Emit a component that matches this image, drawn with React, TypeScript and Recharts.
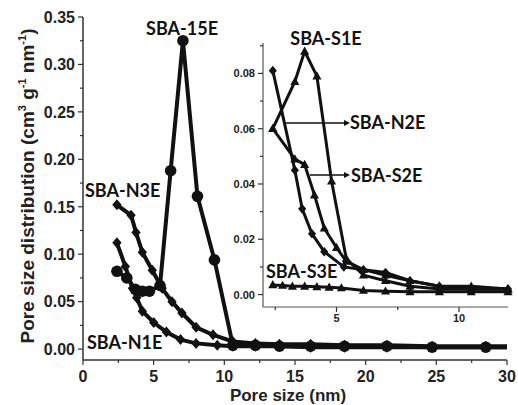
import React from "react";
import { Line, LineChart, XAxis, YAxis } from "recharts";

type Pt = { size: number; value: number };

const toPts = (rows: number[][]): Pt[] => rows.map(([size, value]) => ({ size, value }));

// main panel (0-30 nm)
const sba15E = toPts([
  [2.4, 0.082], [3.1, 0.075], [3.7, 0.063], [4.2, 0.061], [4.7, 0.061], [5.45, 0.067],
  [6.2, 0.188], [7.07, 0.325], [8.1, 0.161], [9.3, 0.094], [10.6, 0.004], [12.2, 0.004],
  [13.9, 0.003], [16.1, 0.003], [18.5, 0.003], [21.5, 0.003], [24.7, 0.002], [28.5, 0.002], [30, 0.002],
]);
const sbaN3E = toPts([
  [2.4, 0.152], [3.4, 0.141], [3.75, 0.123], [4.2, 0.102], [4.9, 0.083], [5.6, 0.064],
  [6.3, 0.05], [7.0, 0.038], [8.0, 0.023], [9.2, 0.015], [10.6, 0.008], [12.2, 0.006],
  [13.9, 0.005], [16.1, 0.005], [18.5, 0.004], [21.5, 0.004], [24.7, 0.003], [28.5, 0.003], [30, 0.003],
]);
const sbaN1E = toPts([
  [2.4, 0.112], [3.0, 0.087], [3.5, 0.064], [3.8, 0.054], [4.2, 0.04], [5.0, 0.028],
  [5.9, 0.018], [6.9, 0.01], [8.0, 0.006], [9.5, 0.004], [10.6, 0.003], [12.2, 0.003],
  [13.9, 0.003], [16.1, 0.002], [18.5, 0.002], [21.5, 0.002], [24.7, 0.002], [28.5, 0.002], [30, 0.002],
]);

// inset (2-12 nm)
const sbaS1E = toPts([
  [2.4, 0.06], [3.3, 0.077], [3.7, 0.088], [4.2, 0.079], [4.8, 0.041], [5.4, 0.013],
  [6.1, 0.007], [7.0, 0.005], [8.0, 0.003], [9.2, 0.002], [10.5, 0.002], [12, 0.002],
]);
const sbaN2E = toPts([
  [2.4, 0.06], [3.3, 0.049], [3.7, 0.047], [4.1, 0.036], [4.5, 0.024], [5.0, 0.017],
  [5.4, 0.012], [6.1, 0.009], [7.0, 0.007], [8.0, 0.005], [9.2, 0.003], [10.5, 0.003], [12, 0.002],
]);
const sbaS2E = toPts([
  [2.4, 0.081], [3.3, 0.045], [3.6, 0.031], [4.0, 0.022], [4.5, 0.0155], [5.3, 0.01],
  [6.1, 0.009], [7.0, 0.008], [8.0, 0.005], [9.2, 0.003], [10.5, 0.002], [12, 0.002],
]);
const sbaS3E = toPts([
  [2.4, 0.0035], [2.8, 0.0033], [3.2, 0.003], [3.7, 0.003], [4.2, 0.0028], [4.7, 0.0026],
  [5.2, 0.0024], [6.1, 0.0015], [7.0, 0.0012], [8.0, 0.001], [9.2, 0.001], [10.5, 0.001], [12, 0.001],
]);

const mainXTicks = [0, 2.5, 5, 7.5, 10, 12.5, 15, 17.5, 20, 22.5, 25, 27.5, 30];
const mainYTicks = [0, 0.025, 0.05, 0.075, 0.1, 0.125, 0.15, 0.175, 0.2, 0.225, 0.25, 0.275, 0.3, 0.325, 0.35];
const insetXTicks = [2.5, 5, 7.5, 10];
const insetYTicks = [0, 0.01, 0.02, 0.03, 0.04, 0.05, 0.06, 0.07, 0.08, 0.09];

const INK = "#111";
const AXIS = "#333";
const tickFont = "'Liberation Sans', Arial, sans-serif";
const annFont = "Lato, 'Open Sans', sans-serif";

const isMult = (v: number, step: number) => Math.abs(v / step - Math.round(v / step)) < 1e-6;

const makeYTick = (step: number, fontSize: number, decimals: number) => (props: any) => {
  const { x, y, payload } = props;
  const major = isMult(payload.value, step);
  return (
    <g>
      <line x1={x} x2={x - (major ? 5 : 3)} y1={y} y2={y} stroke={AXIS} strokeWidth={1.2} />
      {major && (
        <text x={x - 8} y={y} dy="0.36em" textAnchor="end" fontFamily={tickFont} fontWeight="bold" fontSize={fontSize} fill="#222">
          {payload.value.toFixed(decimals)}
        </text>
      )}
    </g>
  );
};

const makeXTick = (step: number, fontSize: number, gap: number) => (props: any) => {
  const { x, y, payload } = props;
  const major = isMult(payload.value, step);
  return (
    <g>
      <line x1={x} x2={x} y1={y} y2={y + (major ? 5 : 3)} stroke={AXIS} strokeWidth={1.2} />
      {major && (
        <text x={x} y={y + gap} dy="0.36em" textAnchor="middle" fontFamily={tickFont} fontWeight="bold" fontSize={fontSize} fill="#222">
          {payload.value}
        </text>
      )}
    </g>
  );
};

const circleDot = (r: number) => (p: any) =>
  p.payload && p.payload.size >= 30 ? <g key={`c-${p.index}`} /> : <circle key={`c-${p.index}`} cx={p.cx} cy={p.cy} r={r} fill={INK} />;

const diamondDot = (s: number) => (p: any) =>
  p.payload && p.payload.size >= 30 ? (
    <g key={`d-${p.index}`} />
  ) : (
    <polygon
      key={`d-${p.index}`}
      points={`${p.cx},${p.cy - s} ${p.cx + s * 0.85},${p.cy} ${p.cx},${p.cy + s} ${p.cx - s * 0.85},${p.cy}`}
      fill={INK}
    />
  );

const triangleDot = (s: number) => (p: any) => (
  <polygon
    key={`t-${p.index}`}
    points={`${p.cx},${p.cy - s} ${p.cx + s * 0.95},${p.cy + s * 0.7} ${p.cx - s * 0.95},${p.cy + s * 0.7}`}
    fill={INK}
  />
);

const Ann = ({ x, y, children, anchor = "start" }: { x: number; y: number; children: React.ReactNode; anchor?: string }) => (
  <text x={x} y={y} textAnchor={anchor as any} fontFamily={annFont} fontWeight="bold" fontSize={18} fill={INK}>
    {children}
  </text>
);

const Arrow = ({ x1, x2, y }: { x1: number; x2: number; y: number }) => (
  <g>
    <line x1={x1} x2={x2 - 5} y1={y} y2={y} stroke={INK} strokeWidth={1.4} />
    <polygon points={`${x2},${y} ${x2 - 6},${y - 3} ${x2 - 6},${y + 3}`} fill={INK} />
  </g>
);

export default function App() {
  return (
    <div style={{ position: "absolute", left: 0, top: 0, width: 518, height: 405, background: "#fff", overflow: "hidden" }}>
      <div style={{ position: "absolute", left: 0, top: 0 }}>
        <LineChart width={518} height={405} margin={{ top: 17, right: 11, left: 0, bottom: 0 }}>
          <XAxis
            type="number"
            dataKey="size"
            domain={[0, 30]}
            ticks={mainXTicks}
            interval={0}
            height={45}
            tickSize={0}
            tickMargin={0}
            tickLine={false}
            tick={makeXTick(5, 16, 16)}
            axisLine={{ stroke: AXIS, strokeWidth: 1.5 }}
          />
          <YAxis
            type="number"
            domain={[-0.0115, 0.35]}
            ticks={mainYTicks}
            interval={0}
            width={83}
            tickSize={0}
            tickMargin={0}
            tickLine={false}
            tick={makeYTick(0.05, 16, 2)}
            axisLine={{ stroke: AXIS, strokeWidth: 1.5 }}
          />
          <Line data={sbaN1E} dataKey="value" stroke={INK} strokeWidth={4} dot={diamondDot(5.5)} activeDot={false} isAnimationActive={false} />
          <Line data={sbaN3E} dataKey="value" stroke={INK} strokeWidth={4} dot={diamondDot(5.5)} activeDot={false} isAnimationActive={false} />
          <Line data={sba15E} dataKey="value" stroke={INK} strokeWidth={4} dot={circleDot(5.8)} activeDot={false} isAnimationActive={false} />
        </LineChart>
      </div>
      <div style={{ position: "absolute", left: 220, top: 30 }}>
        <LineChart width={295} height={300} margin={{ top: 13, right: 7, left: 0, bottom: 0 }}>
          <XAxis
            type="number"
            dataKey="size"
            domain={[2, 12]}
            ticks={insetXTicks}
            interval={0}
            height={23}
            tickSize={0}
            tickMargin={0}
            tickLine={false}
            tick={makeXTick(5, 11, 11)}
            axisLine={{ stroke: "#555", strokeWidth: 1.2 }}
          />
          <YAxis
            type="number"
            domain={[-0.0045, 0.091]}
            ticks={insetYTicks}
            interval={0}
            width={43}
            tickSize={0}
            tickMargin={0}
            tickLine={false}
            tick={makeYTick(0.02, 11, 2)}
            axisLine={{ stroke: "#555", strokeWidth: 1.2 }}
          />
          <Line data={sbaS3E} dataKey="value" stroke={INK} strokeWidth={3} dot={triangleDot(4.8)} activeDot={false} isAnimationActive={false} />
          <Line data={sbaS2E} dataKey="value" stroke={INK} strokeWidth={3} dot={diamondDot(4.8)} activeDot={false} isAnimationActive={false} />
          <Line data={sbaN2E} dataKey="value" stroke={INK} strokeWidth={3} dot={triangleDot(4.8)} activeDot={false} isAnimationActive={false} />
          <Line data={sbaS1E} dataKey="value" stroke={INK} strokeWidth={3} dot={triangleDot(4.8)} activeDot={false} isAnimationActive={false} />
        </LineChart>
      </div>
      <svg width={518} height={405} style={{ position: "absolute", left: 0, top: 0, pointerEvents: "none" }}>
        <text
          transform="translate(34,186) rotate(-90)"
          textAnchor="middle"
          fontFamily={tickFont}
          fontWeight="bold"
          fontSize={19}
          fill="#222"
        >
          Pore size distribution (cm<tspan fontSize={11} dy={-8}>3</tspan>
          <tspan dy={8}> g</tspan>
          <tspan fontSize={11} dy={-8}>-1</tspan>
          <tspan dy={8}> nm</tspan>
          <tspan fontSize={11} dy={-8}>-1</tspan>
          <tspan dy={8}>)</tspan>
        </text>
        <text x={288} y={401} textAnchor="middle" fontFamily={tickFont} fontWeight="bold" fontSize={17} fill="#222">
          Pore size (nm)
        </text>
        <Ann x={182} y={35} anchor="middle">SBA-15E</Ann>
        <Ann x={85} y={197}>SBA-N3E</Ann>
        <Ann x={87} y={349}>SBA-N1E</Ann>
        <Ann x={326} y={45} anchor="middle">SBA-S1E</Ann>
        <Ann x={350} y={129}>SBA-N2E</Ann>
        <Ann x={351} y={182}>SBA-S2E</Ann>
        <Ann x={266} y={278}>SBA-S3E</Ann>
        <Arrow x1={286} x2={350} y={123} />
        <Arrow x1={310} x2={350} y={175} />
      </svg>
    </div>
  );
}
